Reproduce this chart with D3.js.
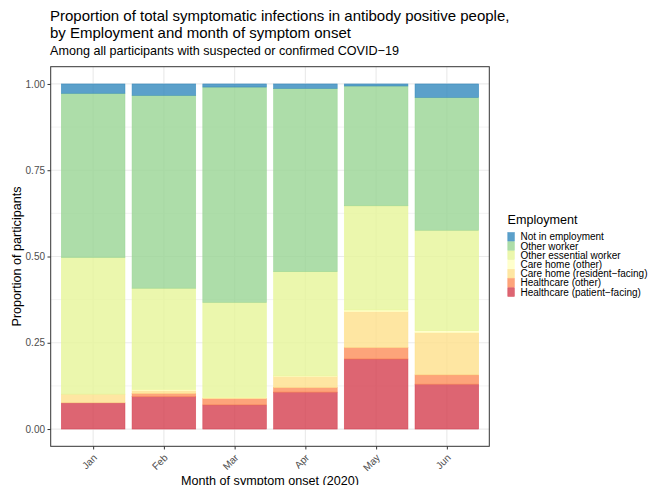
<!DOCTYPE html>
<html>
<head>
<meta charset="utf-8">
<script src="https://cdn.jsdelivr.net/npm/d3@7"></script>
<style>
  body { margin: 0; background: #fff; }
  text { font-family: 'Liberation Sans', Arial, Helvetica, sans-serif; }
</style>
</head>
<body>
<svg id="chart" width="649" height="485"></svg>
<script>
let months = ['Jan', 'Feb', 'Mar', 'Apr', 'May', 'Jun']

// stack order, bottom to top
let groups = [
  'Healthcare (patient\u2212facing)',
  'Healthcare (other)',
  'Care home (resident\u2212facing)',
  'Care home (other)',
  'Other essential worker',
  'Other worker',
  'Not in employment'
]

let colours = ['#D53E4F', '#FC8D59', '#FEE08B', '#FFFFBF', '#E6F598', '#99D594', '#3288BD']

// proportions per month, same order as groups
let healthcarePatient = [0.076, 0.094, 0.070, 0.107, 0.203, 0.130]
let healthcareOther   = [0.000, 0.009, 0.018, 0.013, 0.033, 0.027]
let careHomeResident  = [0.025, 0.008, 0.002, 0.032, 0.104, 0.122]
let careHomeOther     = [0.000, 0.004, 0.002, 0.002, 0.005, 0.006]
let otherEssential    = [0.396, 0.293, 0.275, 0.302, 0.302, 0.291]
let otherWorker       = [0.476, 0.559, 0.624, 0.531, 0.347, 0.385]
let notEmployed       = [0.027, 0.033, 0.009, 0.013, 0.006, 0.039]

let yTicks = [0, 0.25, 0.5, 0.75, 1]
let yMinor = [0.125, 0.375, 0.625, 0.875]

let series = [healthcarePatient, healthcareOther, careHomeResident, careHomeOther,
  otherEssential, otherWorker, notEmployed]

let data = months.map((m, i) => {
  let row = { month: m }
  groups.forEach((g, j) => { row[g] = series[j][i] })
  return row
})

let panel = { left: 50.7, right: 489.3, top: 66.7, bottom: 446.3 }

let svg = d3.select('#chart')

let x = d3.scalePoint()
    .domain(months)
    .range([panel.left, panel.right])
    .padding(0.6)

let y = d3.scaleLinear()
    .domain([-0.05, 1.05])
    .range([panel.bottom, panel.top])

let colour = d3.scaleOrdinal()
    .domain(groups)
    .range(colours)

let barWidth = x.step() * 0.9

// grid
let grid = svg.append('g')

grid.selectAll('.minor')
    .data(yMinor)
  .enter().append('line')
    .attr('x1', panel.left).attr('x2', panel.right)
    .attr('y1', d => y(d)).attr('y2', d => y(d))
    .attr('stroke', '#EBEBEB')
    .attr('stroke-width', 0.6)

grid.selectAll('.major')
    .data(yTicks)
  .enter().append('line')
    .attr('x1', panel.left).attr('x2', panel.right)
    .attr('y1', d => y(d)).attr('y2', d => y(d))
    .attr('stroke', '#EBEBEB')
    .attr('stroke-width', 1.2)

grid.selectAll('.vmajor')
    .data(months)
  .enter().append('line')
    .attr('x1', d => x(d)).attr('x2', d => x(d))
    .attr('y1', panel.top).attr('y2', panel.bottom)
    .attr('stroke', '#EBEBEB')
    .attr('stroke-width', 1.2)

// bars
let stacked = d3.stack().keys(groups)(data)

svg.append('g')
  .selectAll('g')
    .data(stacked)
  .enter().append('g')
    .attr('fill', d => colour(d.key))
    .attr('fill-opacity', 0.8)
    .attr('stroke', d => colour(d.key))
    .attr('stroke-opacity', 0.8)
    .attr('stroke-width', 0.6)
  .selectAll('rect')
    .data(d => d.filter(s => s[1] - s[0] > 0))
  .enter().append('rect')
    .attr('x', d => x(d.data.month) - barWidth / 2)
    .attr('width', barWidth)
    .attr('y', d => y(d[1]))
    .attr('height', d => y(d[0]) - y(d[1]))

// panel border
svg.append('rect')
    .attr('x', panel.left)
    .attr('y', panel.top)
    .attr('width', panel.right - panel.left)
    .attr('height', panel.bottom - panel.top)
    .attr('fill', 'none')
    .attr('stroke', '#333333')
    .attr('stroke-width', 1)

// axes
let yAxis = svg.append('g')
    .attr('transform', 'translate(' + panel.left + ',0)')
    .call(d3.axisLeft(y).tickValues(yTicks).tickFormat(d3.format('.2f')).tickSize(3.2).tickPadding(2.5))

yAxis.select('.domain').remove()
yAxis.selectAll('line').attr('stroke', '#333333')
yAxis.selectAll('text')
    .attr('fill', '#4D4D4D')
    .style('font-size', '10px')
    .style('font-family', "'Liberation Sans', Arial, sans-serif")

let xAxis = svg.append('g')
    .attr('transform', 'translate(0,' + panel.bottom + ')')
    .call(d3.axisBottom(x).tickSize(3.2))

xAxis.select('.domain').remove()
xAxis.selectAll('line').attr('stroke', '#333333')
xAxis.selectAll('text')
    .attr('fill', '#4D4D4D')
    .attr('y', 0)
    .attr('dy', 0)
    .attr('text-anchor', 'end')
    .attr('transform', 'translate(4,12) rotate(-45)')
    .style('font-size', '10px')
    .style('font-family', "'Liberation Sans', Arial, sans-serif")

// titles
svg.append('text')
    .attr('x', 50)
    .attr('y', 21)
    .style('font-size', '15px')
    .text('Proportion of total symptomatic infections in antibody positive people,')

svg.append('text')
    .attr('x', 50)
    .attr('y', 38)
    .style('font-size', '15px')
    .text('by Employment and month of symptom onset')

svg.append('text')
    .attr('x', 50)
    .attr('y', 55)
    .style('font-size', '12.6px')
    .text('Among all participants with suspected or confirmed COVID\u221219')

svg.append('text')
    .attr('x', (panel.left + panel.right) / 2)
    .attr('y', 484.5)
    .attr('text-anchor', 'middle')
    .style('font-size', '12.6px')
    .text('Month of symptom onset (2020)')

svg.append('text')
    .attr('transform', 'translate(21,' + (panel.top + panel.bottom) / 2 + ') rotate(-90)')
    .attr('text-anchor', 'middle')
    .style('font-size', '12.6px')
    .text('Proportion of participants')

// legend
let legend = svg.append('g')
    .attr('transform', 'translate(507.5,232.3)')

legend.append('text')
    .attr('x', 0)
    .attr('y', -8.5)
    .style('font-size', '12.6px')
    .text('Employment')

let legendItems = legend.selectAll('.item')
    .data(groups.slice().reverse())
  .enter().append('g')
    .attr('transform', (d, i) => 'translate(0,' + i * 9.2 + ')')

legendItems.append('rect')
    .attr('x', 0.3)
    .attr('y', 0.3)
    .attr('width', 6.5)
    .attr('height', 8.6)
    .attr('fill', d => colour(d))
    .attr('fill-opacity', 0.8)
    .attr('stroke', d => colour(d))
    .attr('stroke-opacity', 0.8)
    .attr('stroke-width', 0.6)

legendItems.append('text')
    .attr('x', 13)
    .attr('y', 8)
    .style('font-size', '10px')
    .text(d => d)
</script>
</body>
</html>
